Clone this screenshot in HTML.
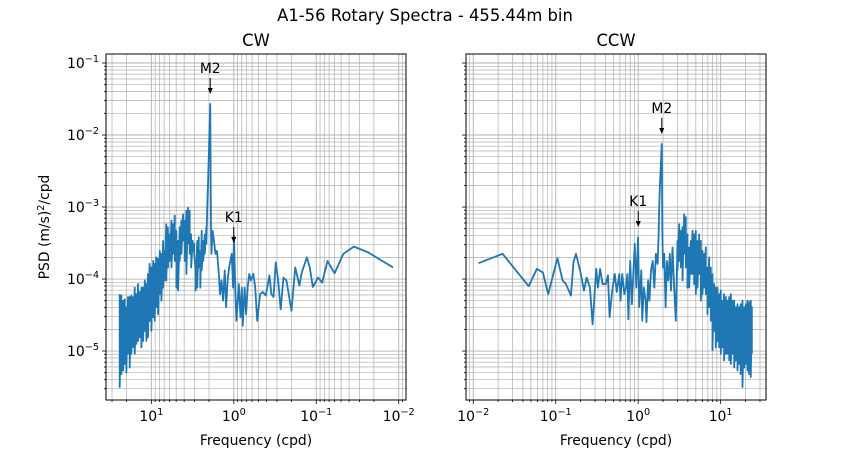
<!DOCTYPE html>
<html><head><meta charset="utf-8">
<style>
html,body{margin:0;padding:0;background:#fff;}
svg{display:block;font-family:"DejaVu Sans","Liberation Sans",sans-serif;}
</style></head>
<body>
<svg id="fig" width="850" height="450" viewBox="0 0 850 450">
<rect width="850" height="450" fill="#fff"/>
<text x="425" y="21" font-size="16.4" text-anchor="middle" fill="#000">A1-56 Rotary Spectra - 455.44m bin</text>
<text x="256" y="46" font-size="16.4" text-anchor="middle">CW</text>
<text x="616" y="46" font-size="16.4" text-anchor="middle">CCW</text>
<text x="49" y="227" font-size="13.9" text-anchor="middle" transform="rotate(-90 49 227)">PSD (m/s)<tspan dy="-5" font-size="9.7">2</tspan><tspan dy="5">/cpd</tspan></text>
<text x="256" y="445" font-size="13.9" text-anchor="middle">Frequency (cpd)</text>
<text x="616" y="445" font-size="13.9" text-anchor="middle">Frequency (cpd)</text>
<g id="cw"></g>
<g id="ccw"></g>
</svg>
<script>
// ---- data (frequency in cpd, PSD as log10 value) ----
const cwBandFreq = [24.2,23.1,22.0,21.0,20.1,19.2,18.3,17.5,16.7,15.9,15.2,14.5,13.8,13.2,12.6,12.0,11.5,11.0,10.5,10.0,9.5,9.1,8.7,8.3,7.9,7.55,7.2,6.9,6.6,6.3,6.0,5.7,5.45,5.2,4.97,4.74,4.53,4.32,4.13,3.94,3.76,3.59,3.43,3.29,3.15,3.02,2.9,2.78,2.66,2.55,2.45,2.35,2.25,2.15];
const cwBandHi = [-4.21,-4.23,-4.30,-4.28,-4.39,-4.25,-4.25,-4.23,-4.25,-4.12,-4.21,-4.07,-4.18,-4.12,-4.12,-4.02,-4.07,-3.93,-3.79,-3.84,-3.75,-3.79,-3.70,-3.72,-3.61,-3.65,-3.47,-3.61,-3.24,-3.28,-3.38,-3.19,-3.24,-3.12,-3.33,-3.47,-3.28,-3.19,-3.10,-3.19,-3.05,-3.01,-3.05,-3.38,-3.47,-3.51,-3.88,-3.47,-3.42,-3.61,-3.33,-3.47,-3.38,-3.28];
const cwBandLo = [-5.50,-5.32,-5.27,-5.18,-5.30,-5.04,-5.23,-5.04,-4.95,-5.04,-4.90,-4.86,-4.81,-4.95,-4.86,-4.72,-4.86,-4.81,-4.58,-4.72,-4.53,-4.58,-4.39,-4.49,-4.21,-4.30,-4.12,-4.02,-4.02,-3.84,-3.75,-3.84,-3.65,-3.75,-4.12,-4.16,-3.75,-3.65,-3.47,-3.75,-3.93,-3.51,-3.65,-3.84,-3.61,-3.65,-4.16,-4.12,-3.84,-4.12,-3.88,-3.75,-3.65,-3.51];
const cwFreq = [2.10,2.05,1.932,1.91,1.89,1.87,1.81,1.74,1.67,1.6,1.53,1.47,1.41,1.35,1.29,1.24,1.19,1.14,1.06,1.02,0.997,0.96,0.93,0.87,0.83,0.8,0.78,0.74,0.71,0.68,0.65,0.62,0.58,0.55,0.52,0.48,0.445,0.41,0.37,0.35,0.33,0.31,0.29,0.27,0.25,0.23,0.2,0.18,0.16,0.15,0.13,0.12,0.11,0.095,0.085,0.073,0.06,0.047,0.035,0.0235,0.0117];
const cwLogPsd = [-3.00,-2.63,-1.57,-2.59,-3.28,-3.65,-3.33,-3.47,-3.65,-3.61,-3.88,-4.21,-4.02,-4.30,-3.88,-4.39,-4.02,-3.84,-3.65,-4.12,-3.40,-4.12,-4.58,-4.07,-4.53,-4.12,-4.65,-4.12,-4.49,-4.12,-3.93,-4.02,-3.93,-4.12,-4.58,-4.21,-4.18,-4.23,-3.95,-4.21,-4.25,-3.77,-4.02,-4.42,-3.98,-4.02,-4.44,-3.84,-4.09,-3.91,-3.70,-3.84,-4.11,-3.98,-4.05,-3.75,-3.92,-3.65,-3.55,-3.63,-3.84];

const ccwFreq = [0.0116,0.0227,0.047,0.059,0.07,0.081,0.105,0.121,0.133,0.153,0.164,0.176,0.2,0.22,0.237,0.26,0.28,0.31,0.325,0.345,0.37,0.405,0.43,0.45,0.47,0.49,0.52,0.55,0.59,0.61,0.64,0.68,0.71,0.74,0.76,0.8,0.84,0.88,0.91,0.95,0.997,1.03,1.09,1.12,1.17,1.23,1.26,1.32,1.37,1.43,1.5,1.57,1.64,1.72,1.77,1.8,1.83,1.932,1.96,2.0,2.07,2.15,2.23,2.32,2.42,2.5,2.61,2.73,2.86];
const ccwLogPsd = [-3.78,-3.65,-4.10,-3.86,-3.91,-4.21,-3.71,-4.02,-4.07,-4.23,-3.77,-3.65,-3.91,-4.16,-3.98,-4.12,-4.63,-3.86,-4.12,-3.86,-4.07,-4.07,-3.95,-4.53,-4.30,-4.12,-3.93,-4.18,-3.93,-4.30,-3.93,-4.21,-4.12,-3.93,-4.56,-3.75,-4.35,-3.84,-3.51,-4.12,-3.42,-4.39,-3.88,-4.58,-4.12,-4.30,-4.60,-4.02,-4.30,-3.88,-3.75,-4.12,-3.65,-3.79,-3.38,-3.00,-2.73,-2.125,-3.28,-3.84,-3.65,-4.39,-3.75,-4.02,-3.65,-4.16,-3.56,-4.12,-4.58];
const ccwBandFreq = [3.0,3.14,3.29,3.45,3.61,3.78,3.96,4.15,4.35,4.56,4.77,5.0,5.24,5.49,5.75,6.02,6.31,6.61,6.92,7.26,7.60,7.96,8.34,8.73,9.16,9.59,10.05,10.5,11.0,11.6,12.1,12.7,13.3,13.9,14.6,15.3,16.0,16.8,17.5,18.4,19.3,20.2,21.1,22.1,23.2,23.9];
const ccwBandHi = [-3.47,-3.24,-3.33,-3.28,-3.10,-3.14,-3.38,-3.56,-3.47,-3.33,-3.38,-3.33,-3.47,-3.38,-3.47,-3.61,-3.65,-3.56,-3.84,-3.70,-3.84,-3.93,-4.07,-4.12,-4.12,-4.21,-4.16,-4.30,-4.21,-4.25,-4.30,-4.25,-4.21,-4.30,-4.30,-4.39,-4.35,-4.39,-4.35,-4.30,-4.39,-4.35,-4.30,-4.32,-4.30,-4.39];
const ccwBandLo = [-3.88,-3.75,-3.84,-4.02,-3.65,-3.84,-4.12,-4.12,-3.93,-3.93,-4.07,-4.21,-4.12,-3.93,-4.30,-4.21,-4.12,-4.21,-4.49,-4.39,-4.58,-4.99,-4.72,-4.95,-4.86,-4.95,-5.04,-4.95,-5.13,-5.04,-5.04,-5.13,-5.18,-5.04,-5.23,-5.13,-5.27,-5.18,-5.32,-5.50,-5.23,-5.18,-5.27,-5.32,-5.36,-5.04];

const xTickExp = [-2,-1,0,1];
const yTickExp = [-5,-4,-3,-2,-1];

const NS = 'http://www.w3.org/2000/svg';
const Y0 = 54, Y1 = 400, YMIN = -5.68, YMAX = -0.875;
const XMIN = -2.088, XMAX = 1.55;
function yScale(l){ return Y0 + (YMAX - l) / (YMAX - YMIN) * (Y1 - Y0); }
function makeX(left, reversed){
  return function(f){
    const t = (Math.log10(f) - XMIN) / (XMAX - XMIN);
    return reversed ? left + 300 - t*300 : left + t*300;
  };
}
function el(tag, attrs, parent){
  const e = document.createElementNS(NS, tag);
  for (const k in attrs) e.setAttribute(k, attrs[k]);
  parent.appendChild(e);
  return e;
}

function drawPanel(g, left, reversed, pts, showY, annos, prefix){
  const xs = makeX(left, reversed);
  const grid = el('g', {}, g);
  
  
  for (let d = -3; d <= 1; d++){
    for (let m = 1; m <= 9; m++){
      const lf = d + Math.log10(m);
      if (lf < XMIN || lf > XMAX) continue;
      const x = xs(Math.pow(10, lf));
      el('line', {x1:x, x2:x, y1:Y0, y2:Y1, stroke:'#b0b0b0', 'stroke-width': m===1?0.9:0.7}, grid);
      el('line', {x1:x, x2:x, y1:Y1, y2:Y1 + (m===1?4:2), stroke:'#000', 'stroke-width':0.8}, grid);
    }
  }
  for (let d = -6; d <= -1; d++){
    for (let m = 1; m <= 9; m++){
      const l = d + Math.log10(m);
      if (l < YMIN || l > YMAX) continue;
      const y = yScale(l);
      el('line', {x1:left, x2:left+300, y1:y, y2:y, stroke:'#b0b0b0', 'stroke-width': m===1?0.9:0.7}, grid);
      el('line', {x1:left - (m===1?4:2), x2:left, y1:y, y2:y, stroke:'#000', 'stroke-width':0.8}, grid);
    }
  }
  xTickExp.forEach(function(e){
    const x = xs(Math.pow(10, e));
    const t = el('text', {x:x, y:421, 'font-size':13.9, 'text-anchor':'middle'}, g);
    
    
    t.innerHTML = '10<tspan dy="-6" font-size="9.7">' + (e < 0 ? '\u2212' + (-e) : e) + '</tspan>';
  });
  if (showY){
    yTickExp.forEach(function(e){
      const y = yScale(e);
      const t = el('text', {x:left - 7, y:y + 5, 'font-size':13.9, 'text-anchor':'end'}, g);
      
      
      t.innerHTML = '10<tspan dy="-6" font-size="9.7">\u2212' + (-e) + '</tspan>';
    });
  }
  const d = pts.map(function(p, i){ return (i ? 'L' : 'M') + xs(p[0]).toFixed(2) + ',' + yScale(p[1]).toFixed(2); }).join('');
  const path = el('path', {d:d, fill:'none', stroke:'#1f77b4', 'stroke-width':1.8, 'stroke-linejoin':'round'}, g);
  
  
  annos.forEach(function(a){
    const ag = el('g', {}, g);
    
    
    const x = xs(a.f);
    el('text', {x:x, y:a.ty, 'font-size':13.9, 'text-anchor':'middle'}, ag).textContent = a.label;
    el('line', {x1:x, x2:x, y1:a.ty + 5, y2:a.ty + 16, stroke:'#000', 'stroke-width':1}, ag);
    el('path', {d:'M'+(x-2.5)+','+(a.ty+15)+'L'+(x+2.5)+','+(a.ty+15)+'L'+x+','+(a.ty+21)+'Z', fill:'#000'}, ag);
  });
  const frame = el('rect', {x:left, y:Y0, width:300, height:Y1-Y0, fill:'none', stroke:'#000', 'stroke-width':1}, g);
  
  
}

function buildPts(bf, hi, lo, f, l, bandFirst){
  const band = [];
  for (let i = 0; i < bf.length; i++){ band.push([bf[i], hi[i]]); band.push([bf[i], lo[i]]); }
  const line = f.map(function(v, i){ return [v, l[i]]; });
  return bandFirst ? band.concat(line) : line.concat(band);
}

drawPanel(document.getElementById('cw'), 106, true,
  buildPts(cwBandFreq, cwBandHi, cwBandLo, cwFreq, cwLogPsd, true), true,
  [{label:'M2', f:1.932, ty:73}, {label:'K1', f:1.0027, ty:222}], 'cw');
drawPanel(document.getElementById('ccw'), 466, false,
  buildPts(ccwBandFreq, ccwBandHi, ccwBandLo, ccwFreq, ccwLogPsd, false), false,
  [{label:'M2', f:1.932, ty:113}, {label:'K1', f:1.0027, ty:206}], 'ccw');
</script>
</body></html>
